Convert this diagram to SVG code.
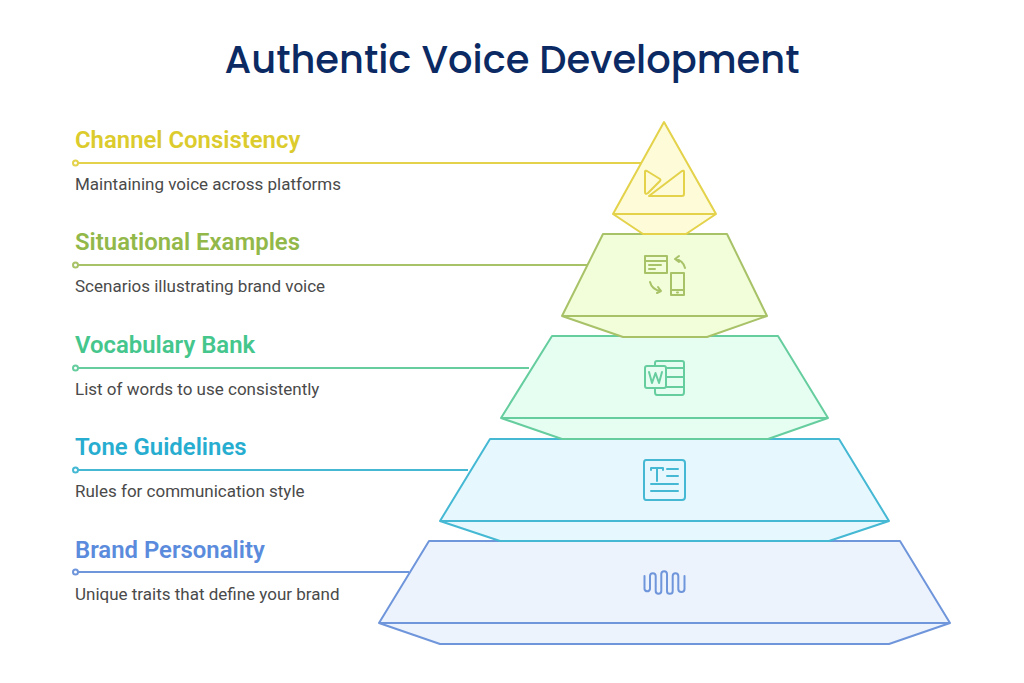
<svg xmlns="http://www.w3.org/2000/svg" width="1024" height="683" viewBox="0 0 1024 683">
<style>
text{font-family:Roboto,"Liberation Sans",sans-serif}
.title{font-family:Poppins,"Open Sans",Inter,sans-serif;font-size:38.400px;font-weight:500;fill:#0b2a63;text-anchor:middle}
.h{font-size:23.900px;font-weight:600}
.d{font-size:17px;fill:#4a4a4a}
.sh{stroke-width:2;stroke-linejoin:round}
.ic{fill:none;stroke-width:2;stroke-linejoin:round;stroke-linecap:round}
.ln{fill:none;stroke-width:2}
.dot{fill:#fff;stroke-width:2}
</style>
<rect width="1024" height="683" fill="#fff"/>
<text class="title" x="512" y="73">Authentic Voice Development</text>
<g id="connectors">
<path class="ln" stroke="#e3d24a" d="M78 163H642"/><circle class="dot" stroke="#e3d24a" cx="75.500" cy="163" r="2.500"/>
<path class="ln" stroke="#a8c268" d="M78 265H590"/><circle class="dot" stroke="#a8c268" cx="75.500" cy="265" r="2.500"/>
<path class="ln" stroke="#66cd9f" d="M78 368H529"/><circle class="dot" stroke="#66cd9f" cx="75.500" cy="368" r="2.500"/>
<path class="ln" stroke="#45b8d4" d="M78 470H468"/><circle class="dot" stroke="#45b8d4" cx="75.500" cy="470" r="2.500"/>
<path class="ln" stroke="#6f95db" d="M78 572H409"/><circle class="dot" stroke="#6f95db" cx="75.500" cy="572" r="2.500"/>
</g>
<g id="brand-personality">
<path class="sh" fill="#ecf3fd" stroke="#6f95db" d="M429 541H900L950 623L889 644H440L379 623Z"/>
<path class="sh" fill="none" stroke="#6f95db" d="M379 623H950"/>
<path class="ic" stroke="#6f95db" d="M644.500 576V589A2.800 2.800 0 0 0 650 589V576A2.800 2.800 0 0 1 655.700 576V591A2.800 2.800 0 0 0 661.300 591V574A2.800 2.800 0 0 1 667 574V591A2.800 2.800 0 0 0 672.700 591V576A2.800 2.800 0 0 1 678.300 576V589A2.800 2.800 0 0 0 684.500 589V576"/>
<text class="h" x="75" y="558" fill="#5b8bdc">Brand Personality</text>
<text class="d" x="75" y="599.500">Unique traits that define your brand</text>
</g>
<g id="tone-guidelines">
<path class="sh" fill="#e6f8fd" stroke="#45b8d4" d="M490 439H839L889 521L829 541H500L440 521Z"/>
<path class="sh" fill="none" stroke="#45b8d4" d="M440 521H889"/>
<path class="ic" stroke="#45b8d4" d="M646 460H682Q685 460 685 463V497Q685 500 682 500H646Q644 500 644 497V463Q644 460 646 460ZM651 468H663M657 468V481M651 468V470M663 468V470M667 469H678M667 476H678M651 484H678M651 491H678"/>
<text class="h" x="75" y="455" fill="#27add0">Tone Guidelines</text>
<text class="d" x="75" y="496.500">Rules for communication style</text>
</g>
<g id="vocabulary-bank">
<path class="sh" fill="#e6fdf2" stroke="#66cd9f" d="M552 336H778L828 418L768 439H562L501 418Z"/>
<path class="sh" fill="none" stroke="#66cd9f" d="M501 418H828"/>
<path class="ic" stroke="#66cd9f" d="M655 366V363Q655 361 657 361H682Q684 361 684 363V392Q684 395 682 395H657Q655 395 655 392V388M666 368H684M666 377H684M666 387H684M647 366H664Q666 366 666 368V386Q666 388 664 388H647Q645 388 645 386V368Q645 366 647 366Z"/>
<path class="ic" stroke="#66cd9f" stroke-width="1.500" d="M649 372L652 383L655.500 373L659 383L662 372"/>
<text class="h" x="75" y="353" fill="#45c68c">Vocabulary Bank</text>
<text class="d" x="75" y="394.500">List of words to use consistently</text>
</g>
<g id="situational-examples">
<path class="sh" fill="#f2fdd9" stroke="#a8c268" d="M603 234H727L767 316L707 337H623L562 316Z"/>
<path class="sh" fill="none" stroke="#a8c268" d="M562 316H767"/>
<path class="ic" stroke="#a8c268" d="M645 256H667V273H645ZM645 261H667M649 265H661M649 269H655M671 273H684V295H671ZM671 290H684M677 292.500H678M685 268Q683 260 675 259M679 256L675 259L679 262M650 282Q652 290 661 291M658 287L661 291L657 293"/>
<text class="h" x="75" y="250" fill="#93b84a">Situational Examples</text>
<text class="d" x="75" y="291.500">Scenarios illustrating brand voice</text>
</g>
<g id="channel-consistency">
<path class="sh" fill="#fefbd8" stroke="#e3d24a" d="M664 122L716 214L686 234H643L613 214Z"/>
<path class="sh" fill="none" stroke="#e3d24a" d="M613 214H716"/>
<path class="ic" stroke="#e3d24a" d="M647 171L660 179Q661 180 660 181L648 193Q645 195 645 192V172Q645 170 647 171ZM649 196L682 171Q684 170 684 172V194Q684 196 682 196Z"/>
<text class="h" x="75" y="148" fill="#dccb2c">Channel Consistency</text>
<text class="d" x="75" y="189.500">Maintaining voice across platforms</text>
</g>
</svg>
